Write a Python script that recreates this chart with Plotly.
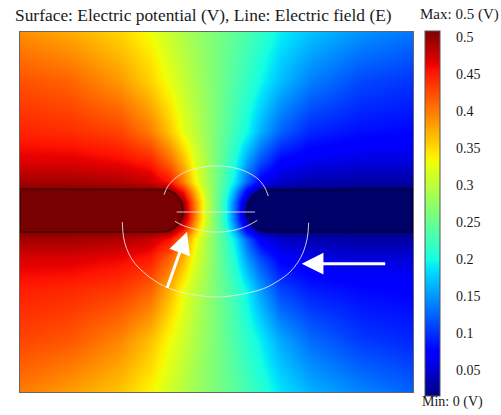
import plotly.graph_objects as go
import numpy as np

# ---------------- data ----------------
# sample grid (plot units, x to the right, y downward)
x_grid = [0, 50, 100, 130, 150, 163, 175, 185, 195, 205, 215, 227, 240, 260, 290, 340, 393]
y_grid = [0, 50, 100, 130, 150, 160, 170, 178.5, 187, 197, 207, 227, 257, 307, 360]

potential_V = [
    [0.38, 0.365, 0.342, 0.32, 0.295, 0.28, 0.268, 0.259, 0.25, 0.241, 0.232, 0.22, 0.205, 0.18, 0.158, 0.135, 0.12],
    [0.413, 0.403, 0.375, 0.345, 0.315, 0.295, 0.278, 0.264, 0.25, 0.236, 0.222, 0.205, 0.185, 0.155, 0.125, 0.097, 0.087],
    [0.437, 0.432, 0.42, 0.39, 0.35, 0.315, 0.29, 0.27, 0.25, 0.23, 0.21, 0.185, 0.15, 0.11, 0.08, 0.068, 0.063],
    [0.46, 0.46, 0.452, 0.44, 0.40, 0.36, 0.31, 0.28, 0.25, 0.22, 0.19, 0.14, 0.10, 0.06, 0.048, 0.04, 0.04],
    [0.485, 0.485, 0.48, 0.47, 0.445, 0.39, 0.325, 0.285, 0.25, 0.215, 0.175, 0.11, 0.055, 0.03, 0.02, 0.015, 0.015],
    [0.5, 0.5, 0.5, 0.5, 0.5, 0.45, 0.36, 0.295, 0.25, 0.205, 0.14, 0.05, 0.0, 0.0, 0.0, 0.0, 0.0],
    [0.5, 0.5, 0.5, 0.5, 0.5, 0.49, 0.385, 0.305, 0.25, 0.195, 0.115, 0.01, 0.0, 0.0, 0.0, 0.0, 0.0],
    [0.5, 0.5, 0.5, 0.5, 0.5, 0.5, 0.39, 0.305, 0.25, 0.195, 0.11, 0.0, 0.0, 0.0, 0.0, 0.0, 0.0],
    [0.5, 0.5, 0.5, 0.5, 0.5, 0.49, 0.385, 0.305, 0.25, 0.195, 0.115, 0.01, 0.0, 0.0, 0.0, 0.0, 0.0],
    [0.5, 0.5, 0.5, 0.5, 0.5, 0.45, 0.36, 0.295, 0.25, 0.205, 0.14, 0.05, 0.0, 0.0, 0.0, 0.0, 0.0],
    [0.485, 0.485, 0.48, 0.47, 0.445, 0.39, 0.325, 0.285, 0.25, 0.215, 0.175, 0.11, 0.055, 0.03, 0.02, 0.015, 0.015],
    [0.46, 0.46, 0.452, 0.44, 0.40, 0.36, 0.31, 0.28, 0.25, 0.22, 0.19, 0.14, 0.10, 0.06, 0.048, 0.04, 0.04],
    [0.44, 0.435, 0.425, 0.405, 0.36, 0.32, 0.29, 0.27, 0.25, 0.23, 0.21, 0.18, 0.14, 0.095, 0.075, 0.065, 0.06],
    [0.42, 0.41, 0.385, 0.355, 0.32, 0.30, 0.28, 0.265, 0.25, 0.235, 0.22, 0.20, 0.18, 0.145, 0.115, 0.09, 0.08],
    [0.39, 0.372, 0.35, 0.325, 0.30, 0.285, 0.27, 0.26, 0.25, 0.24, 0.23, 0.215, 0.20, 0.175, 0.15, 0.128, 0.11],
]

# electrodes (rounded bars)
electrode_top_y = 157
electrode_bottom_y = 200
left_tip_x = 163
right_tip_x = 227
domain_width = 393
domain_height = 360

# electric field lines
field_line_1_x = [156.7, 235]
field_line_1_y = [180, 180]
field_line_2_x = [144, 148, 155, 166.7, 180, 196.7, 213, 226.7, 238, 244.5, 248.3]
field_line_2_y = [162.7, 154, 146.5, 139.3, 135.5, 134, 135.5, 140, 147, 155, 164]
field_line_3_x = [155, 163, 173.3, 185, 196.7, 208, 220, 229, 237.3]
field_line_3_y = [189.3, 193.5, 196.7, 199.3, 200, 199.3, 196.7, 193, 188.3]
field_line_4_x = [102.3, 103.5, 106.7, 113, 123.3, 135, 150, 172, 196.7, 220, 243.3, 258, 270, 278, 283.3, 287.3, 288.7]
field_line_4_y = [190, 205, 216.7, 229, 240, 249, 256.7, 262.5, 265, 262.5, 256.7, 249, 240, 230, 220, 206, 190.7]

# white arrows (tail -> tip)
arrow_1_tail = (146.7, 257.3)
arrow_1_tip = (167, 200)
arrow_2_tail = (366.7, 231.7)
arrow_2_tip = (281.7, 231.7)

# colour legend
legend_ticks = [0.5, 0.45, 0.4, 0.35, 0.3, 0.25, 0.2, 0.15, 0.1, 0.05]
legend_tick_text = ["0.5", "0.45", "0.4", "0.35", "0.3", "0.25", "0.2", "0.15", "0.1", "0.05"]
v_min, v_max = 0.0, 0.5

title_text = "Surface: Electric potential (V), Line: Electric field (E)"
max_text = "Max: 0.5 (V)"
min_text = "Min: 0 (V)"

# ---------------- styling ----------------
W, H = 501, 415
ML, MR, MT, MB = 20, 4, 32, 23
PWP = W - ML - MR          # paper width in px
PH = H - MT - MB           # plot height in px
x_domain_end = domain_width / PWP


def paper_x(px):
    return (px - ML) / PWP


def paper_y(py):
    return (H - MB - py) / PH


jet = [
    [0.0, "rgb(0,0,128)"], [0.11, "rgb(0,0,255)"], [0.125, "rgb(0,0,255)"],
    [0.34, "rgb(0,219,255)"], [0.35, "rgb(0,230,247)"], [0.375, "rgb(21,255,226)"],
    [0.64, "rgb(239,255,8)"], [0.65, "rgb(247,245,0)"], [0.66, "rgb(255,236,0)"],
    [0.89, "rgb(255,19,0)"], [0.91, "rgb(232,0,0)"], [1.0, "rgb(128,0,0)"],
]

serif = "Liberation Serif"

fig = go.Figure()

fig.add_trace(go.Heatmap(
    x=x_grid, y=y_grid, z=potential_V, zmin=v_min, zmax=v_max,
    colorscale=jet, zsmooth="best", hoverinfo="skip",
    colorbar=dict(
        x=paper_x(425), xanchor="left", xpad=0,
        y=paper_y(213.5), yanchor="middle", ypad=0,
        thickness=15, len=365, lenmode="pixels",
        outlinewidth=1, outlinecolor="#555555",
        showticklabels=False, ticks="",
    ),
))

# electrodes
r = (electrode_bottom_y - electrode_top_y) / 2
cy = (electrode_top_y + electrode_bottom_y) / 2
th = np.linspace(-np.pi / 2, np.pi / 2, 40)
lcx = left_tip_x - r
lx = [0, lcx] + list(lcx + r * np.cos(th)) + [lcx, 0, 0]
ly = [electrode_top_y, electrode_top_y] + list(cy + r * np.sin(th)) + [electrode_bottom_y, electrode_bottom_y, electrode_top_y]
rcx = right_tip_x + r
rx = [domain_width, rcx] + list(rcx - r * np.cos(th)) + [rcx, domain_width, domain_width]
ry = ly

fig.add_trace(go.Scatter(x=lx, y=ly, mode="lines", fill="toself", fillcolor="rgb(120,0,0)",
                         line=dict(color="rgba(70,0,0,0.75)", width=2), hoverinfo="skip", showlegend=False))
fig.add_trace(go.Scatter(x=rx, y=ry, mode="lines", fill="toself", fillcolor="rgb(0,0,105)",
                         line=dict(color="rgba(0,0,55,0.75)", width=2), hoverinfo="skip", showlegend=False))

# field lines
for fx, fy in [(field_line_1_x, field_line_1_y), (field_line_2_x, field_line_2_y),
               (field_line_3_x, field_line_3_y), (field_line_4_x, field_line_4_y)]:
    fig.add_trace(go.Scatter(x=fx, y=fy, mode="lines", line=dict(color="rgba(235,235,235,0.85)", width=1, shape="spline"),
                             hoverinfo="skip", showlegend=False))

# legend label axis helper trace
fig.add_trace(go.Scatter(x=[0], y=[0.25], yaxis="y2", mode="markers", marker=dict(opacity=0),
                         hoverinfo="skip", showlegend=False))

label_top_px, label_bottom_px = 37, 370
slope = (legend_ticks[0] - legend_ticks[-1]) / (label_bottom_px - label_top_px)
y2_top = legend_ticks[0] + (label_top_px - MT) * slope
y2_bot = legend_ticks[0] - (H - MB - label_top_px) * slope

annotations = [
    dict(x=paper_x(13), y=paper_y(15), xref="paper", yref="paper", xanchor="left", yanchor="middle",
         text=title_text, showarrow=False, font=dict(family=serif, size=17.4, color="#1a1a1a")),
    dict(x=paper_x(418), y=paper_y(15), xref="paper", yref="paper", xanchor="left", yanchor="middle",
         text=max_text, showarrow=False, font=dict(family=serif, size=15, color="#1a1a1a")),
    dict(x=paper_x(420), y=paper_y(402), xref="paper", yref="paper", xanchor="left", yanchor="middle",
         text=min_text, showarrow=False, font=dict(family=serif, size=14, color="#1a1a1a")),
]
for tail, tip in [(arrow_1_tail, arrow_1_tip), (arrow_2_tail, arrow_2_tip)]:
    annotations.append(dict(x=tip[0], y=tip[1], ax=tail[0], ay=tail[1], xref="x", yref="y",
                            axref="x", ayref="y", text="", showarrow=True, arrowhead=2,
                            arrowsize=1.45, arrowwidth=3, arrowcolor="white"))

fig.update_layout(
    width=W, height=H, margin=dict(l=ML, r=MR, t=MT, b=MB),
    paper_bgcolor="white", plot_bgcolor="white", showlegend=False,
    font=dict(family=serif),
    xaxis=dict(domain=[0, x_domain_end], range=[0, domain_width], showgrid=False, zeroline=False,
               showticklabels=False, ticks="", showline=True, mirror=True, linecolor="#666666", linewidth=1),
    yaxis=dict(range=[domain_height, 0], showgrid=False, zeroline=False, showticklabels=False, ticks="",
               showline=True, mirror=True, linecolor="#666666", linewidth=1),
    yaxis2=dict(overlaying="y", side="right", anchor="free", position=paper_x(455),
                range=[y2_bot, y2_top], tickvals=legend_ticks, ticktext=legend_tick_text,
                showgrid=False, zeroline=False, showline=False, ticks="",
                tickfont=dict(family=serif, size=14, color="#1a1a1a")),
    annotations=annotations,
)

fig.write_html("out.html")
